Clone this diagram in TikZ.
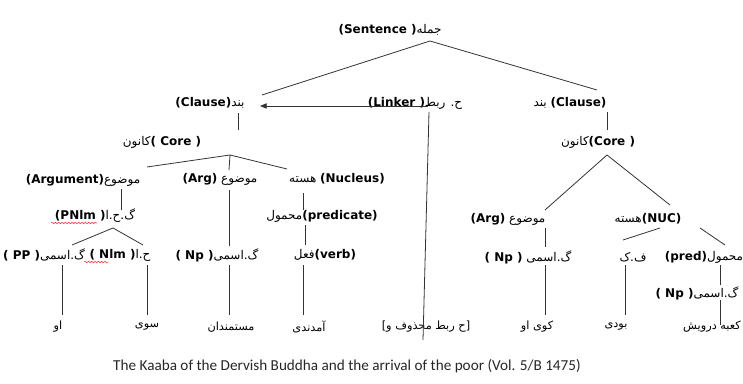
\documentclass[tikz,border=0pt]{standalone}
\usepackage{fontspec}
\setmainfont{DejaVu Sans}
\newfontfamily\arfont[Script=Arabic]{DejaVu Sans}
\newfontfamily\capfont{Carlito}
\TeXXeTstate=1
\newcommand{\fatext}[1]{{\arfont\beginR #1\endR}}
\usetikzlibrary{arrows.meta, decorations.pathmorphing}

\begin{document}
\begin{tikzpicture}[
    x=0.75pt, y=-0.75pt,
    lbl/.style={inner sep=0pt, font=\fontsize{9}{10}\selectfont},
    word/.style={inner sep=0pt, font=\fontsize{8.5}{10}\selectfont},
    branch/.style={line width=0.6pt, black!80},
    arrow/.style={-{Triangle[length=5pt,width=4pt]}, line width=0.6pt, black!80},
    uline/.style={draw=blue!70, double=white, double distance=0.9pt, line width=0.4pt},
    wavy/.style={red!80, line width=0.4pt, decorate, decoration={snake, amplitude=0.6pt, segment length=2.5pt}}
]
\useasboundingbox (0,0) rectangle (743,384);

% top
\node[lbl] (sent) at (390,30) {\textbf{(Sentence )}\fatext{جمله}};
\node[lbl] (clauseL) at (210,103) {\textbf{(Clause)}\fatext{بند}};
\node[lbl] (linker) at (415,103) {\textbf{(Linker )}\fatext{ح. ربط}};
\node[lbl] (clauseR) at (570,103) {\fatext{بند} \textbf{(Clause)}};

% left clause
\node[lbl] (coreL) at (162,142) {\fatext{کانون}\textbf{( Core )}};
\node[lbl] (argL) at (83,180) {\textbf{(Argument)}\fatext{موضوع}};
\node[lbl] (argM) at (220,179) {\textbf{(Arg)} \fatext{موضوع}};
\node[lbl] (nucl) at (337,179) {\fatext{هسته} \textbf{(Nucleus)}};
\node[lbl] (pnlm) at (95,216) {\textbf{(PNlm )}\fatext{گ.ح.ا}};
\node[lbl] (pred) at (322,216) {\fatext{محمول}\textbf{(predicate)}};
\node[lbl] (ppL) at (44,255) {\textbf{( PP )}\fatext{گ.اسمی}};
\node[lbl] (nlm) at (120,255) {\textbf{( Nlm )}\fatext{ح.ا}};
\node[lbl] (npM) at (217,255) {\textbf{( Np )}\fatext{گ.اسمی}};
\node[lbl] (verb) at (325,255) {\fatext{فعل}\textbf{(verb)}};

% right clause
\node[lbl] (coreR) at (598,142) {\fatext{کانون}\textbf{(Core )}};
\node[lbl] (argR) at (508,219) {\textbf{(Arg)} \fatext{موضوع}};
\node[lbl] (nuc) at (648,219) {\fatext{هسته}\textbf{(NUC)}};
\node[lbl] (npR) at (528,257) {\textbf{( Np )} \fatext{گ.اسمی}};
\node[lbl] (fk) at (633,257) {\fatext{ف.ک}};
\node[lbl] (pred2) at (704,257) {\textbf{(pred)}\fatext{محمول}};
\node[lbl] (np2) at (697,293) {\textbf{( Np )}\fatext{گ.اسمی}};

% words
\node[word] (w1) at (58,327) {\fatext{او}};
\node[word] (w2) at (147,327) {\fatext{سوی}};
\node[word] (w3) at (231,327) {\fatext{مستمندان}};
\node[word] (w4) at (309,327) {\fatext{آمدندی}};
\node[word] (w5) at (426,327) {\fatext{[ح ربط محذوف و]}};
\node[word] (w6) at (537,327) {\fatext{کوی او}};
\node[word] (w7) at (616,327) {\fatext{بودی}};
\node[word] (w8) at (712,327) {\fatext{کعبه درویش}};

\node[font=\capfont\fontsize{11.4}{13}\selectfont, text=black!85] (cap) at (347,366)
    {The Kaaba of the Dervish Buddha and the arrival of the poor (Vol. 5/B 1475)};

% branches
\draw[branch] ([shift={(40,11)}]sent.center) -- ([shift={(52,-8)}]clauseL.center);
\draw[branch] ([shift={(40,11)}]sent.center) -- ([shift={(27,-13)}]clauseR.center);
\draw[arrow] ([shift={(13,3)}]linker.center) -- ([shift={(50,3)}]clauseL.center);
\draw[branch] ([shift={(14,9)}]linker.center) -- ([shift={(-3,13)}]w5.center);

\draw[branch] ([shift={(28,10)}]clauseL.center) -- ([shift={(76,-12)}]coreL.center);
\draw[branch] ([shift={(68,13)}]coreL.center) -- ([shift={(64,-13)}]argL.center);
\draw[branch] ([shift={(68,13)}]coreL.center) -- ([shift={(9,-9)}]argM.center);
\draw[branch] ([shift={(68,13)}]coreL.center) -- ([shift={(-50,-10)}]nucl.center);
\draw[branch] ([shift={(38,9)}]argL.center) -- ([shift={(26,-6)}]pnlm.center);
\draw[branch] ([shift={(-34,14)}]nucl.center) -- ([shift={(-19,-6)}]pred.center);
\draw[branch] ([shift={(9,11)}]argM.center) -- ([shift={(12,-9)}]npM.center);
\draw[branch] ([shift={(18,12)}]pnlm.center) -- ([shift={(28,-10)}]ppL.center);
\draw[branch] ([shift={(18,12)}]pnlm.center) -- ([shift={(23,-10)}]nlm.center);
\draw[branch] ([shift={(-17,9)}]pred.center) -- ([shift={(-20,-10)}]verb.center);
\draw[branch] ([shift={(18,10)}]ppL.center) -- ([shift={(4,-12)}]w1.center);
\draw[branch] ([shift={(27,10)}]nlm.center) -- ([shift={(0,-12)}]w2.center);
\draw[branch] ([shift={(12,10)}]npM.center) -- ([shift={(-2,-12)}]w3.center);
\draw[branch] ([shift={(-22,10)}]verb.center) -- ([shift={(-6,-12)}]w4.center);

\draw[branch] ([shift={(37,9)}]clauseR.center) -- ([shift={(9,-12)}]coreR.center);
\draw[branch] ([shift={(9,13)}]coreR.center) -- ([shift={(37,-9)}]argR.center);
\draw[branch] ([shift={(9,13)}]coreR.center) -- ([shift={(22,-14)}]nuc.center);
\draw[branch] ([shift={(37,9)}]argR.center) -- ([shift={(17,-10)}]npR.center);
\draw[branch] ([shift={(12,9)}]nuc.center) -- ([shift={(-10,-17)}]fk.center);
\draw[branch] ([shift={(52,9)}]nuc.center) -- ([shift={(21,-12)}]pred2.center);
\draw[branch] ([shift={(16,8)}]pred2.center) -- ([shift={(23,-8)}]np2.center);
\draw[branch] ([shift={(23,7)}]np2.center) -- ([shift={(8,-2)}]w8.center);
\draw[branch] ([shift={(17,8)}]npR.center) -- ([shift={(8,-12)}]w6.center);
\draw[branch] ([shift={(-8,8)}]fk.center) -- ([shift={(9,-12)}]w7.center);

% word marks
\draw[uline] ([shift={(-50,11)}]nucl.center) -- ([shift={(-17,11)}]nucl.center);
\draw[uline] ([shift={(-10,11)}]nucl.center) -- ([shift={(52,11)}]nucl.center);
\draw[wavy] ([shift={(-44,7)}]pnlm.center) -- ([shift={(2,7)}]pnlm.center);
\draw[wavy] ([shift={(-36,7)}]nlm.center) -- ([shift={(-12,7)}]nlm.center);
\end{tikzpicture}
\end{document}
